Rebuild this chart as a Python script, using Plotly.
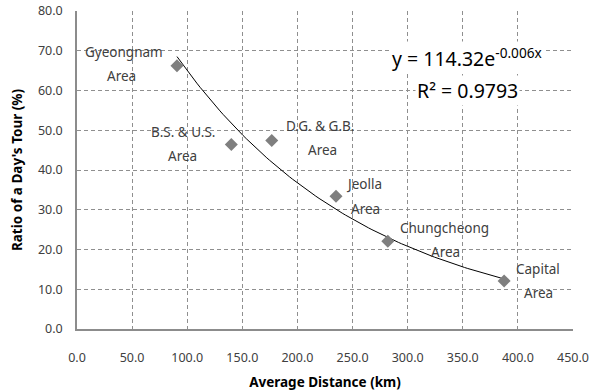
import numpy as np
import plotly.graph_objects as go

regions = ["Gyeongnam", "B.S. & U.S.", "D.G. & G.B.", "Jeolla", "Chungcheong", "Capital"]
avg_distance = [90.7, 140.0, 176.7, 235.0, 282.0, 387.5]
day_tour_ratio = [66.2, 46.4, 47.4, 33.4, 22.1, 12.1]
label_x = [42.6, 96.2, 220.5, 260.4, 333.0, 418.3]
label_y = [69.8, 49.6, 51.1, 36.5, 25.4, 15.1]
area_x = [40.0, 95.9, 222.3, 261.8, 334.0, 418.3]
area_y = [63.6, 43.6, 45.0, 30.2, 19.4, 9.1]
x_ticks = [0, 50, 100, 150, 200, 250, 300, 350, 400, 450]
y_ticks = [0, 10, 20, 30, 40, 50, 60, 70, 80]

# exponential trendline fitted from the data
b, ln_a = np.polyfit(avg_distance, np.log(day_tour_ratio), 1)
tx = np.linspace(min(avg_distance), max(avg_distance), 100)
ty = np.exp(ln_a) * np.exp(b * tx)

font_family = "Noto Sans, Open Sans, sans-serif"
txt_col = "#404040"

fig = go.Figure()
fig.add_trace(go.Scatter(x=tx, y=ty, mode="lines",
                         line=dict(color="#000000", width=1), hoverinfo="skip"))
fig.add_trace(go.Scatter(x=avg_distance, y=day_tour_ratio, mode="markers",
                         marker=dict(symbol="diamond", size=10, color="#7f7f7f")))

for i, r in enumerate(regions):
    fig.add_annotation(x=label_x[i], y=label_y[i], text=r, showarrow=False,
                       font=dict(size=13.5, color=txt_col, family=font_family))
    fig.add_annotation(x=area_x[i], y=area_y[i], text="Area", showarrow=False,
                       font=dict(size=13.5, color=txt_col, family=font_family))

fig.add_annotation(x=353.4, y=68.4, text="y = 114.32e<sup>-0.006x</sup>", showarrow=False,
                   bgcolor="white", font=dict(size=19.5, color="#000000", family=font_family))
fig.add_annotation(x=354, y=60.1, text="R² = 0.9793", showarrow=False,
                   bgcolor="white", font=dict(size=19.5, color="#000000", family=font_family))

axis_common = dict(
    showgrid=True, gridcolor="#8f8f8f", griddash="4px,3px", gridwidth=1,
    zeroline=False, showline=True, linecolor="#8c8c8c", linewidth=1.5,
    tickformat=".1f", tickfont=dict(size=12.5, color=txt_col, family=font_family),
    ticks="", automargin=False,
)
fig.update_xaxes(range=[0, 450], tickvals=x_ticks, ticklabelstandoff=16,
                 title=dict(text="<b>Average Distance (km)</b>", standoff=14,
                            font=dict(size=13.5, color="#000000", family=font_family)),
                 **axis_common)
fig.update_yaxes(range=[0, 80], tickvals=y_ticks, ticklabelstandoff=10,
                 title=dict(text="<b>Ratio of a Day's Tour (%)</b>", standoff=12,
                            font=dict(size=13.5, color="#000000", family=font_family)),
                 **axis_common)

fig.update_layout(width=601, height=391, showlegend=False,
                  plot_bgcolor="white", paper_bgcolor="white",
                  margin=dict(l=77, r=28, t=11, b=62))
fig.write_html("out.html")
